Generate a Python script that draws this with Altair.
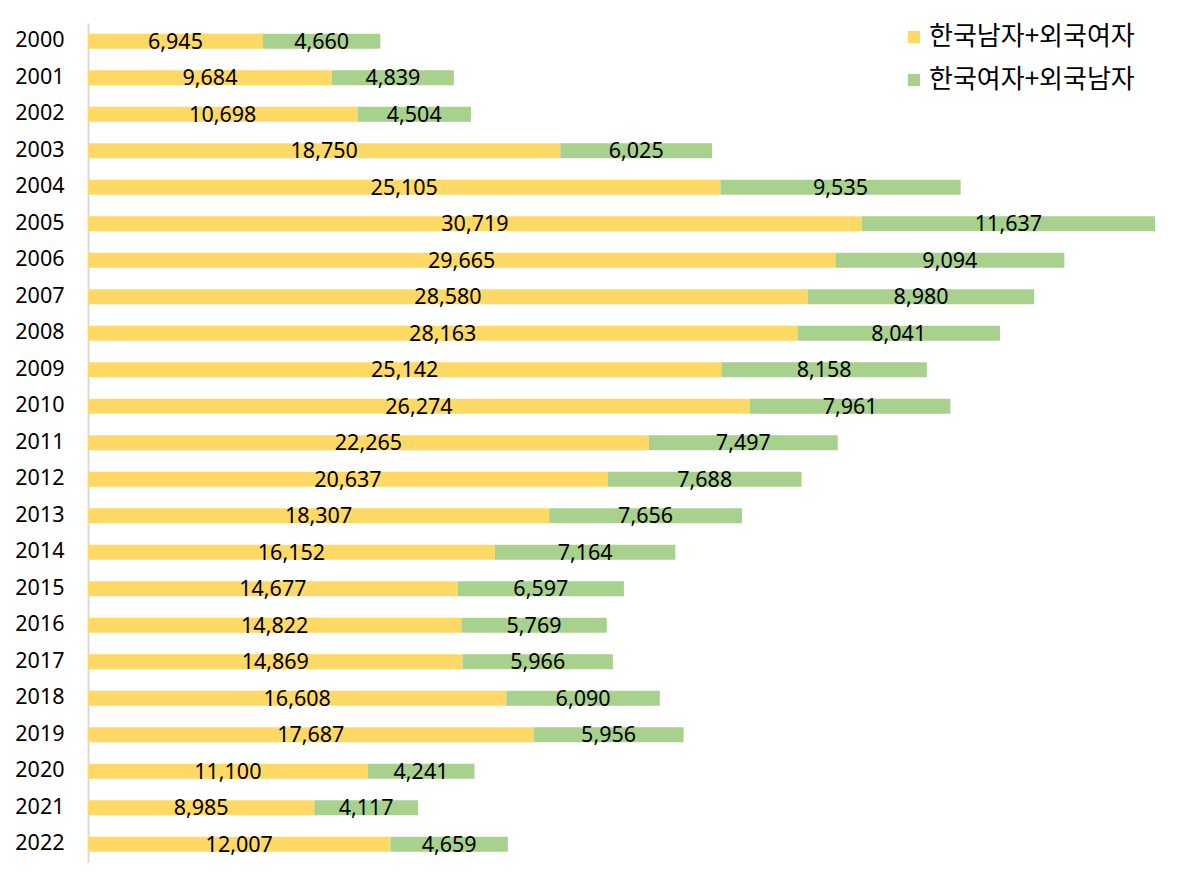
import altair as alt
import pandas as pd

years = [str(y) for y in range(2000, 2023)]
kor_male_foreign_female = [6945, 9684, 10698, 18750, 25105, 30719, 29665, 28580, 28163, 25142,
                           26274, 22265, 20637, 18307, 16152, 14677, 14822, 14869, 16608, 17687,
                           11100, 8985, 12007]
kor_female_foreign_male = [4660, 4839, 4504, 6025, 9535, 11637, 9094, 8980, 8041, 8158,
                           7961, 7497, 7688, 7656, 7164, 6597, 5769, 5966, 6090, 5956,
                           4241, 4117, 4659]
series = ["한국남자+외국여자", "한국여자+외국남자"]
colors = ["#FFD966", "#A9D18E"]

rows = []
for i, y in enumerate(years):
    rows.append({"year": y, "series": series[0], "value": kor_male_foreign_female[i], "order": 0})
    rows.append({"year": y, "series": series[1], "value": kor_female_foreign_male[i], "order": 1})
df = pd.DataFrame(rows)

NUMFONT = "Noto Sans"
KFONT = "Noto Sans CJK KR"
xmax = kor_male_foreign_female[5] + kor_female_foreign_male[5]

base = alt.Chart(df).transform_stack(
    stack="value", groupby=["year"], as_=["x0", "x1"],
    sort=[alt.SortField("order", order="ascending")]
).transform_calculate(mid="(datum.x0 + datum.x1) / 2")

yenc = alt.Y("year:N", sort=years, title=None,
             scale=alt.Scale(paddingInner=0.59, paddingOuter=0.295),
             axis=alt.Axis(ticks=False, labelPadding=24, labelFontSize=21.5, labelFont=NUMFONT,
                           labelColor="#000000", domainColor="#D9D9D9", domainWidth=2,
                           grid=False))

bars = base.mark_bar().encode(
    x=alt.X("x0:Q", scale=alt.Scale(domain=[0, xmax], nice=False, zero=True), axis=None),
    x2="x1:Q",
    y=yenc,
    color=alt.Color("series:N", scale=alt.Scale(domain=series, range=colors),
                    legend=alt.Legend(title=None, orient="none", legendX=813, legendY=1,
                                      labelFont=KFONT, labelFontSize=26, labelColor="#000000",
                                      labelLimit=400,
                                      symbolType="square", symbolSize=150, symbolStrokeWidth=0,
                                      rowPadding=17, labelOffset=2)),
)

labels = base.mark_text(font=NUMFONT, fontSize=21.5, color="#000000", baseline="middle", dy=1.5).encode(
    x=alt.X("mid:Q", scale=alt.Scale(domain=[0, xmax], nice=False, zero=True), axis=None),
    y=alt.Y("year:N", sort=years),
    text=alt.Text("value:Q", format=","),
)

chart = alt.layer(bars, labels).properties(
    width=1067, height=839.5,
    autosize=alt.AutoSizeParams(type="none"),
    padding={"left": 88, "top": 23, "right": 27, "bottom": 23},
).configure_view(stroke=None)

chart.save("out.html", embed_options={"renderer": "svg", "actions": False})
